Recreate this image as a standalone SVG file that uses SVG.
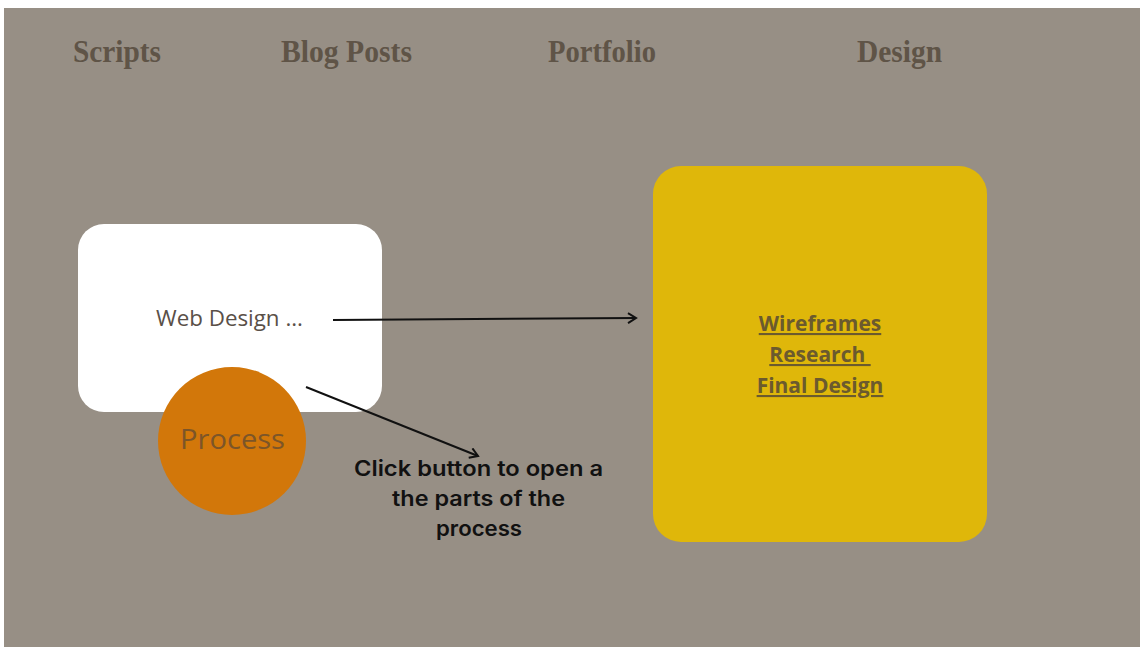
<svg xmlns="http://www.w3.org/2000/svg" width="1144" height="653" viewBox="0 0 1144 653">
  <defs>
    <marker id="arrow" viewBox="0 0 12 12" refX="10" refY="6" markerWidth="12" markerHeight="12" markerUnits="userSpaceOnUse" orient="auto">
      <path d="M2,1 L10,6 L2,11" fill="none" stroke="#111" stroke-width="2"/>
    </marker>
  </defs>
  <style>
    .nav { font-family: "Liberation Serif", serif; font-size: 31px; fill: #5f5447; font-weight: bold; }
    .box-label { font-family: "Open Sans", sans-serif; font-size: 22.5px; fill: #5a5048; }
    .circle-label { font-family: "Open Sans", sans-serif; font-size: 27px; fill: #7c5528; }
    .note { font-family: "Inter", sans-serif; font-size: 21px; font-weight: 600; fill: #111; }
    .link { font-family: "Open Sans", sans-serif; font-size: 21px; font-weight: bold; fill: #6b5a2e; text-anchor: middle; text-decoration: underline; }
    .conn { stroke: #111; stroke-width: 2; fill: none; marker-end: url(#arrow); }
  </style>

  <rect x="0" y="0" width="1144" height="653" fill="#ffffff"/>
  <rect x="4" y="8" width="1136" height="639" fill="#978f85"/>

  <!-- top navigation -->
  <g id="nav">
    <text class="nav" x="73" y="62" textLength="88" lengthAdjust="spacingAndGlyphs">Scripts</text>
    <text class="nav" x="281" y="62" textLength="131" lengthAdjust="spacingAndGlyphs">Blog Posts</text>
    <text class="nav" x="548" y="62" textLength="108" lengthAdjust="spacingAndGlyphs">Portfolio</text>
    <text class="nav" x="857" y="62" textLength="85" lengthAdjust="spacingAndGlyphs">Design</text>
  </g>

  <g id="web-design">
    <rect x="78" y="224" width="304" height="188" rx="26" fill="#ffffff"/>
    <text class="box-label" x="156" y="326" textLength="147" lengthAdjust="spacingAndGlyphs">Web Design ...</text>
  </g>

  <g id="process">
    <circle cx="232" cy="441" r="74" fill="#d2770a"/>
    <text class="circle-label" x="180" y="449" textLength="105" lengthAdjust="spacingAndGlyphs">Process</text>
  </g>

  <g id="parts">
    <rect x="653" y="166" width="334" height="376" rx="28" fill="#dfb70a"/>
    <text class="link" x="820" y="331">Wireframes</text>
    <text class="link" x="820" y="362" xml:space="preserve">Research </text>
    <text class="link" x="820" y="393">Final Design</text>
  </g>

  <g id="hint">
    <text class="note" x="354" y="476" textLength="249" lengthAdjust="spacingAndGlyphs">Click button to open a</text>
    <text class="note" x="392" y="506" textLength="173" lengthAdjust="spacingAndGlyphs">the parts of the</text>
    <text class="note" x="436" y="536" textLength="86" lengthAdjust="spacingAndGlyphs">process</text>
  </g>

  <g id="connectors">
    <line class="conn" x1="333" y1="320" x2="636" y2="318"/>
    <line class="conn" x1="306" y1="387" x2="478" y2="456"/>
  </g>
</svg>
